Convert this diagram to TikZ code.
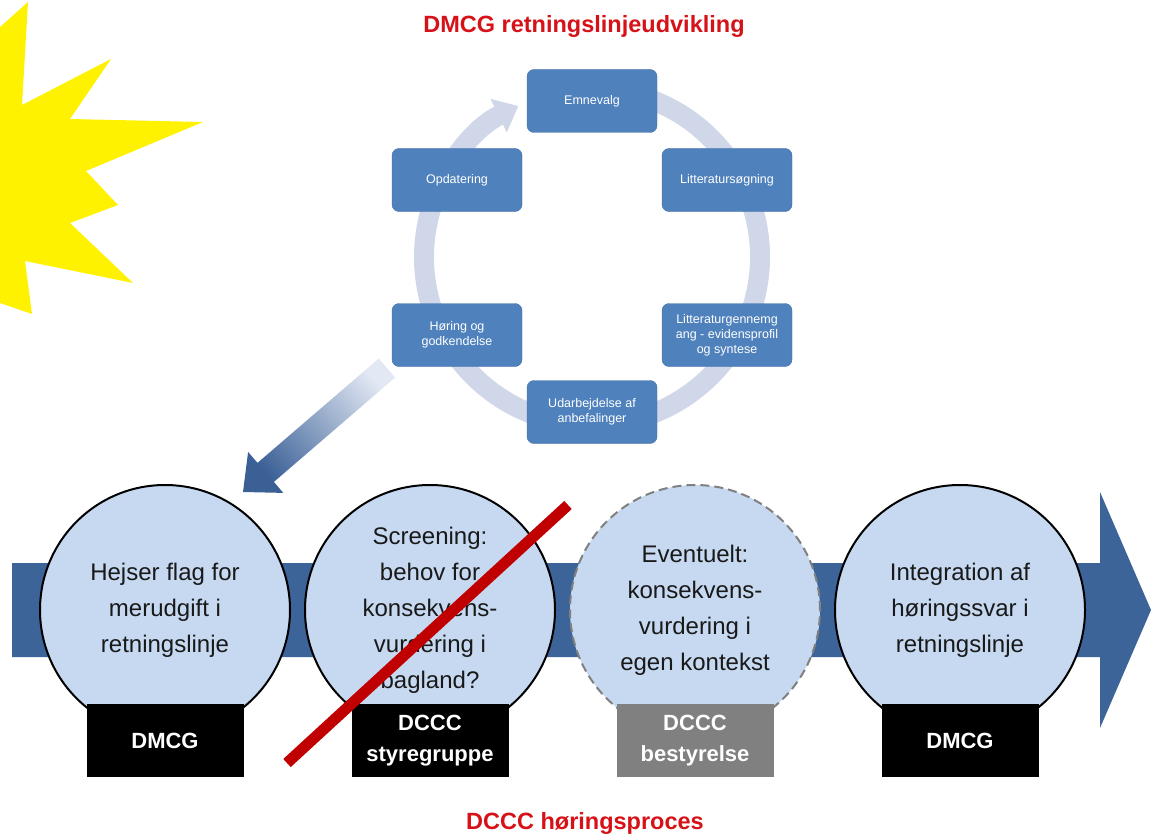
\documentclass[tikz,border=0pt]{standalone}
\usepackage{fontspec}
\setmainfont{Liberation Sans}
\usetikzlibrary{shapes.geometric,positioning,arrows.meta}

\definecolor{bandblue}{RGB}{60,100,153}
\definecolor{bubblefill}{RGB}{198,217,241}
\definecolor{cyclebox}{RGB}{79,129,189}
\definecolor{cycleedge}{RGB}{65,113,170}
\definecolor{ringgray}{RGB}{208,215,232}
\definecolor{titlered}{RGB}{214,18,24}
\definecolor{strikered}{RGB}{192,0,0}
\definecolor{arrowdark}{RGB}{58,96,150}
\definecolor{arrowlight}{RGB}{226,232,244}

\begin{document}
\begin{tikzpicture}[x=1pt, y=-1pt,
    cyclestep/.style={draw=cycleedge, fill=cyclebox, rounded corners=7pt, minimum width=130pt, minimum height=63pt, text=white, align=center, inner sep=2pt, font=\fontsize{12.5}{15}\selectfont},
    bubble/.style={ellipse, draw=black, line width=2pt, fill=bubblefill, minimum width=250pt, minimum height=250pt, inner sep=0pt, align=center, text=black!90, font=\fontsize{24}{36}\selectfont},
    tagbox/.style={fill=black, minimum width=157pt, minimum height=73pt, align=center, text=white, font=\fontsize{22}{31}\selectfont\bfseries},
    title/.style={text=titlered, font=\fontsize{23.5}{28}\selectfont\bfseries}]

    \useasboundingbox (0,0) rectangle (1151,840);

    \fill[yellow] (0,27) -- (28,2) -- (22,105) -- (111,59) -- (70,119) -- (203,122) -- (86,171) -- (118,205) -- (70,223) -- (133,283) -- (25,261) -- (32,314) -- (0,303) -- cycle;

    \node[title] (toptitle) at (584,26) {DMCG retningslinjeudvikling};
    \node[title] (bottomtitle) at (585,823) {DCCC høringsproces};

    \draw[ringgray, line width=20pt, -{Triangle[width=36pt,length=22pt]}] (592,257) ++(-80:168) arc[start angle=-80, end angle=244, radius=168];

    \node[cyclestep] (emne) at (592,101) {Emnevalg};
    \node[cyclestep] (litsog) at (727,180) {Litteratursøgning};
    \node[cyclestep] (litgen) at (727,335) {Litteraturgennemg\\ang - evidensprofil\\og syntese};
    \node[cyclestep] (udarb) at (592,412) {Udarbejdelse af\\anbefalinger};
    \node[cyclestep] (hoering) at (457,335) {Høring og\\godkendelse};
    \node[cyclestep] (opdat) at (457,180) {Opdatering};

    \shade[top color=arrowlight, bottom color=arrowdark, shading angle=-49] (395.2,377.5) -- (273.9,481.9) -- (283.3,492.9) -- (243,492) -- (248.1,451.9) -- (257.5,462.9) -- (378.8,358.5) -- cycle;

    \fill[bandblue] (12,563) -- (1100,563) -- (1100,492) -- (1151,610) -- (1100,728) -- (1100,657) -- (12,657) -- cycle;

    \node[bubble] (flag) at (165,610) {Hejser flag for\\merudgift i\\retningslinje};
    \node[tagbox, below=-32pt of flag] (flagorg) {DMCG};

    \node[bubble] (screen) at (430,610) {Screening:\\behov for\\konsekvens-\\vurdering i\\bagland?};
    \node[tagbox, below=-32pt of screen] (screenorg) {DCCC\\styregruppe};

    \node[bubble, draw=gray, dash pattern=on 9pt off 5pt] (kontekst) at (695,610) {Eventuelt:\\konsekvens-\\vurdering i\\egen kontekst};
    \node[tagbox, fill=gray, below=-32pt of kontekst] (kontekstorg) {DCCC\\bestyrelse};

    \node[bubble] (integr) at (960,610) {Integration af\\høringssvar i\\retningslinje};
    \node[tagbox, below=-32pt of integr] (integrorg) {DMCG};

    \coordinate (strikeA) at (287,763);
    \coordinate (strikeB) at (568,505);
    \draw[strikered, line width=11pt] (strikeA) -- (strikeB);
\end{tikzpicture}
\end{document}
